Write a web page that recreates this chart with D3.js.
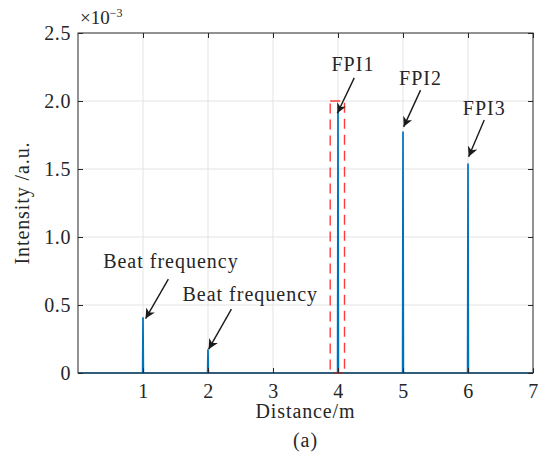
<!DOCTYPE html>
<html>
<head>
<meta charset="utf-8">
<script src="https://cdn.jsdelivr.net/npm/d3@7"></script>
<style>
  body { margin: 0; background: #fff; }
  text { font-family: "Liberation Serif", "DejaVu Serif", serif; fill: #262626; }
</style>
</head>
<body>
<div id="chart"></div>
<script>
// peaks of the distance spectrum (x1e-3 a.u.)
const peakPos = [1.0, 2.0, 4.0, 5.0, 6.0];
const peakVal = [0.41, 0.175, 1.92, 1.775, 1.54];
const xTicks = [1, 2, 3, 4, 5, 6, 7];
const yTicks = [0, 0.5, 1.0, 1.5, 2.0, 2.5];
const boxX = [3.88, 4.1];
const boxY = [0, 2.0];
// annotations: label, text position, arrow start, arrow tip (data units)
const notes = [
  {label: "Beat frequency", tx: 1.43, ty: 0.77, x0: 1.39, y0: 0.69, x1: 1.04, y1: 0.40},
  {label: "Beat frequency", tx: 2.65, ty: 0.53, x0: 2.36, y0: 0.47, x1: 2.01, y1: 0.175},
  {label: "FPI1", tx: 4.23, ty: 2.22, x0: 4.25, y0: 2.17, x1: 3.99, y1: 1.91},
  {label: "FPI2", tx: 5.27, ty: 2.12, x0: 5.27, y0: 2.08, x1: 5.01, y1: 1.81},
  {label: "FPI3", tx: 6.25, ty: 1.90, x0: 6.25, y0: 1.86, x1: 6.01, y1: 1.59}
];

const width = 540, height = 460;
const m = {top: 33, right: 7, bottom: 87, left: 78};
const fs = 20;

const svg = d3.select("#chart").append("svg")
  .attr("width", width).attr("height", height);

const x = d3.scaleLinear().domain([0, 7]).range([m.left, width - m.right]);
const y = d3.scaleLinear().domain([0, 2.5]).range([height - m.bottom, m.top]);

// grid
svg.append("g").selectAll("line").data(xTicks.slice(0, -1)).join("line")
  .attr("x1", d => x(d)).attr("x2", d => x(d))
  .attr("y1", y(0)).attr("y2", y(2.5))
  .attr("stroke", "#e3e3e3").attr("stroke-width", 1);
svg.append("g").selectAll("line").data(yTicks.slice(1, -1)).join("line")
  .attr("x1", x(0)).attr("x2", x(7))
  .attr("y1", d => y(d)).attr("y2", d => y(d))
  .attr("stroke", "#e3e3e3").attr("stroke-width", 1);

// spectrum line
const pts = [[0, 0]];
peakPos.forEach((p, i) => {
  pts.push([p - 0.006, 0], [p, peakVal[i]], [p + 0.006, 0]);
});
pts.push([7, 0]);
svg.append("path")
  .datum(pts)
  .attr("fill", "none")
  .attr("stroke", "#0072BD")
  .attr("stroke-width", 1.7)
  .attr("d", d3.line().x(d => x(d[0])).y(d => y(d[1])));

// red dashed box
svg.append("rect")
  .attr("x", x(boxX[0])).attr("y", y(boxY[1]))
  .attr("width", x(boxX[1]) - x(boxX[0]))
  .attr("height", y(boxY[0]) - y(boxY[1]))
  .attr("fill", "none")
  .attr("stroke", "#ff3b3b")
  .attr("stroke-width", 1.4)
  .attr("stroke-dasharray", "10,6");

// axes (ticks inward, box)
const tickLen = 5;
svg.append("g")
  .attr("transform", `translate(0,${y(0)})`)
  .call(d3.axisBottom(x).tickValues(xTicks).tickSize(-tickLen).tickPadding(11).tickFormat(d3.format("d")))
  .call(g => g.select(".domain").remove());
svg.append("g")
  .attr("transform", `translate(${x(0)},0)`)
  .call(d3.axisLeft(y).tickValues(yTicks).tickSize(-tickLen).tickPadding(7)
    .tickFormat(d => d === 0 ? "0" : d3.format(".1f")(d)))
  .call(g => g.select(".domain").remove());
svg.append("g")
  .attr("transform", `translate(0,${y(2.5)})`)
  .call(d3.axisTop(x).tickValues(xTicks).tickSize(-tickLen).tickFormat(""))
  .call(g => g.select(".domain").remove());
svg.append("g")
  .attr("transform", `translate(${x(7)},0)`)
  .call(d3.axisRight(y).tickValues(yTicks).tickSize(-tickLen).tickFormat(""))
  .call(g => g.select(".domain").remove());

svg.selectAll(".tick line").attr("stroke", "#262626");
svg.selectAll(".tick text")
  .attr("font-size", fs)
  .attr("letter-spacing", 0.6)
  .attr("font-family", "Liberation Serif, serif")
  .attr("fill", "#262626");

svg.append("rect")
  .attr("x", x(0)).attr("y", y(2.5))
  .attr("width", x(7) - x(0)).attr("height", y(0) - y(2.5))
  .attr("fill", "none").attr("stroke", "#262626").attr("stroke-width", 1);

// exponent
const ex = svg.append("text").attr("x", x(0) + 2).attr("y", 24).attr("font-size", 19);
ex.append("tspan").text("×10");
ex.append("tspan").attr("dy", -7).attr("font-size", 12).text("−3");

// axis labels
svg.append("text")
  .attr("x", (x(0) + x(7)) / 2).attr("y", 418)
  .attr("text-anchor", "middle").attr("font-size", fs).attr("letter-spacing", 0.9)
  .text("Distance/m");
svg.append("text")
  .attr("x", (x(0) + x(7)) / 2).attr("y", 447)
  .attr("text-anchor", "middle").attr("font-size", fs).attr("letter-spacing", 0.9)
  .text("(a)");
svg.append("text")
  .attr("transform", `translate(29,${(y(0) + y(2.5)) / 2}) rotate(-90)`)
  .attr("text-anchor", "middle").attr("font-size", fs).attr("letter-spacing", 0.9)
  .text("Intensity /a.u.");

// arrows
svg.append("defs").append("marker")
  .attr("id", "head")
  .attr("viewBox", "0 0 10 10")
  .attr("refX", 10).attr("refY", 5)
  .attr("markerWidth", 10).attr("markerHeight", 10)
  .attr("markerUnits", "userSpaceOnUse")
  .attr("orient", "auto")
  .append("path").attr("d", "M0,0 L10,5 L0,10 L3,5 Z").attr("fill", "#1a1a1a");

const ann = svg.append("g");
ann.selectAll("line").data(notes).join("line")
  .attr("x1", d => x(d.x0)).attr("y1", d => y(d.y0))
  .attr("x2", d => x(d.x1)).attr("y2", d => y(d.y1))
  .attr("stroke", "#1a1a1a").attr("stroke-width", 1.4)
  .attr("marker-end", "url(#head)");
ann.selectAll("text").data(notes).join("text")
  .attr("x", d => x(d.tx)).attr("y", d => y(d.ty))
  .attr("text-anchor", "middle").attr("font-size", fs).attr("letter-spacing", 1)
  .text(d => d.label);
</script>
</body>
</html>
